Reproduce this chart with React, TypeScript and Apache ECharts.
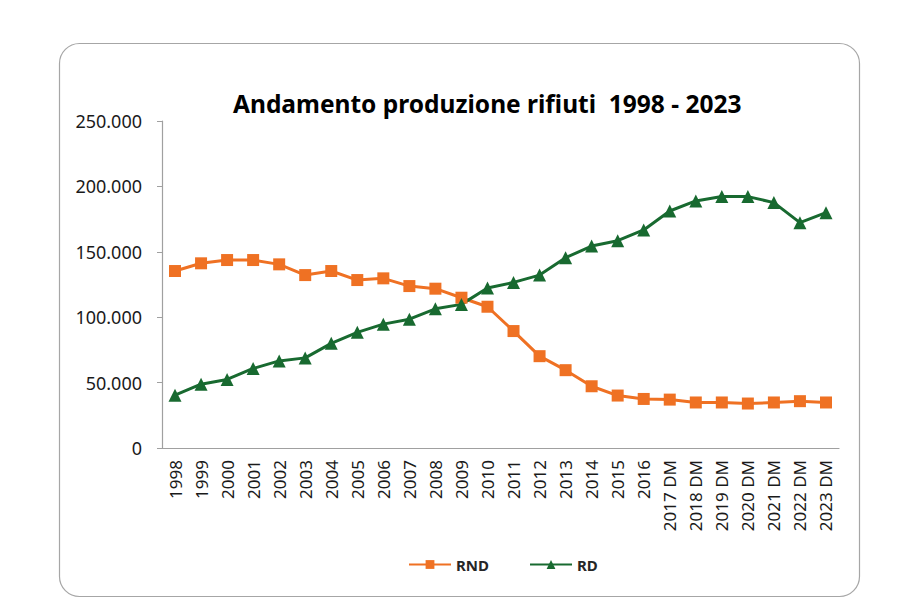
import { useEffect, useRef } from 'react'
import * as echarts from 'echarts'

const years = [
  '1998', '1999', '2000', '2001', '2002', '2003', '2004', '2005', '2006',
  '2007', '2008', '2009', '2010', '2011', '2012', '2013', '2014', '2015',
  '2016', '2017 DM', '2018 DM', '2019 DM', '2020 DM', '2021 DM', '2022 DM',
  '2023 DM',
]

const rnd = [
  135300, 141200, 143700, 143700, 140400, 132200, 135300, 128400, 129700,
  123800, 121800, 114900, 108000, 89400, 70200, 59500, 47200, 40100, 37500,
  37000, 34800, 34800, 34000, 34800, 35800, 34800,
]

const rd = [
  40400, 48800, 52400, 60800, 66600, 68900, 80000, 88400, 94700, 98500,
  106400, 109800, 122300, 126600, 132200, 145500, 154400, 158500, 166700,
  181200, 188900, 192200, 192200, 187600, 172300, 179900,
]

const ORANGE = '#EF7123'
const GREEN = '#186A30'
const FONT = '"Noto Sans", sans-serif'

// separatore migliaia col punto
const fmt = (v: number) => String(v).replace(/\B(?=(\d{3})+(?!\d))/g, '.')

export default function App() {
  const chartRef = useRef<HTMLDivElement>(null)

  useEffect(() => {
    if (!chartRef.current) return
    const chart = echarts.init(chartRef.current, undefined, { renderer: 'svg' })

    chart.setOption({
      animation: false,
      backgroundColor: '#fff',
      title: {
        text: 'Andamento produzione rifiuti  1998 - 2023',
        left: 228,
        top: 86,
        textStyle: { fontFamily: FONT, fontSize: 24.5, fontWeight: 'bold', color: '#000' },
      },
      graphic: [
        {
          type: 'rect',
          shape: { x: 59.5, y: 43.5, width: 800, height: 553, r: 20 },
          style: { fill: 'none', stroke: '#a6a6a6', lineWidth: 1.2 },
          silent: true,
          z: -1,
        },
      ],
      legend: {
        left: 403,
        top: 552,
        itemWidth: 42,
        itemHeight: 11,
        itemGap: 40,
        textStyle: { fontFamily: FONT, fontSize: 15, fontWeight: 'bold', color: '#262626' },
        data: ['RND', 'RD'],
      },
      grid: { left: 162, right: 85, top: 121, bottom: 162 },
      xAxis: {
        type: 'category',
        data: years,
        boundaryGap: true,
        axisLine: { lineStyle: { color: '#a0a0a0', width: 1.2 } },
        axisTick: { length: 5, lineStyle: { color: '#a0a0a0' } },
        axisLabel: {
          rotate: 90,
          margin: 12,
          interval: 0,
          fontFamily: FONT,
          fontSize: 17,
          color: '#1a1a1a',
        },
      },
      yAxis: {
        type: 'value',
        min: 0,
        max: 250000,
        interval: 50000,
        splitLine: { show: false },
        axisLine: { show: true, lineStyle: { color: '#a0a0a0', width: 1.2 } },
        axisTick: { show: true, length: 5, lineStyle: { color: '#a0a0a0' } },
        axisLabel: {
          margin: 20,
          fontFamily: FONT,
          fontSize: 18,
          color: '#1a1a1a',
          formatter: (v: number) => fmt(v),
        },
      },
      series: [
        {
          name: 'RND',
          type: 'line',
          data: rnd,
          symbol: 'rect',
          symbolSize: 12,
          lineStyle: { color: ORANGE, width: 3 },
          itemStyle: { color: ORANGE },
        },
        {
          name: 'RD',
          type: 'line',
          data: rd,
          symbol: 'triangle',
          symbolSize: 13,
          lineStyle: { color: GREEN, width: 3 },
          itemStyle: { color: GREEN },
        },
      ],
    })

    return () => {
      chart.dispose()
    }
  }, [])

  return (
    <div
      ref={chartRef}
      style={{ position: 'fixed', left: 0, top: 0, width: 924, height: 610 }}
    />
  )
}
